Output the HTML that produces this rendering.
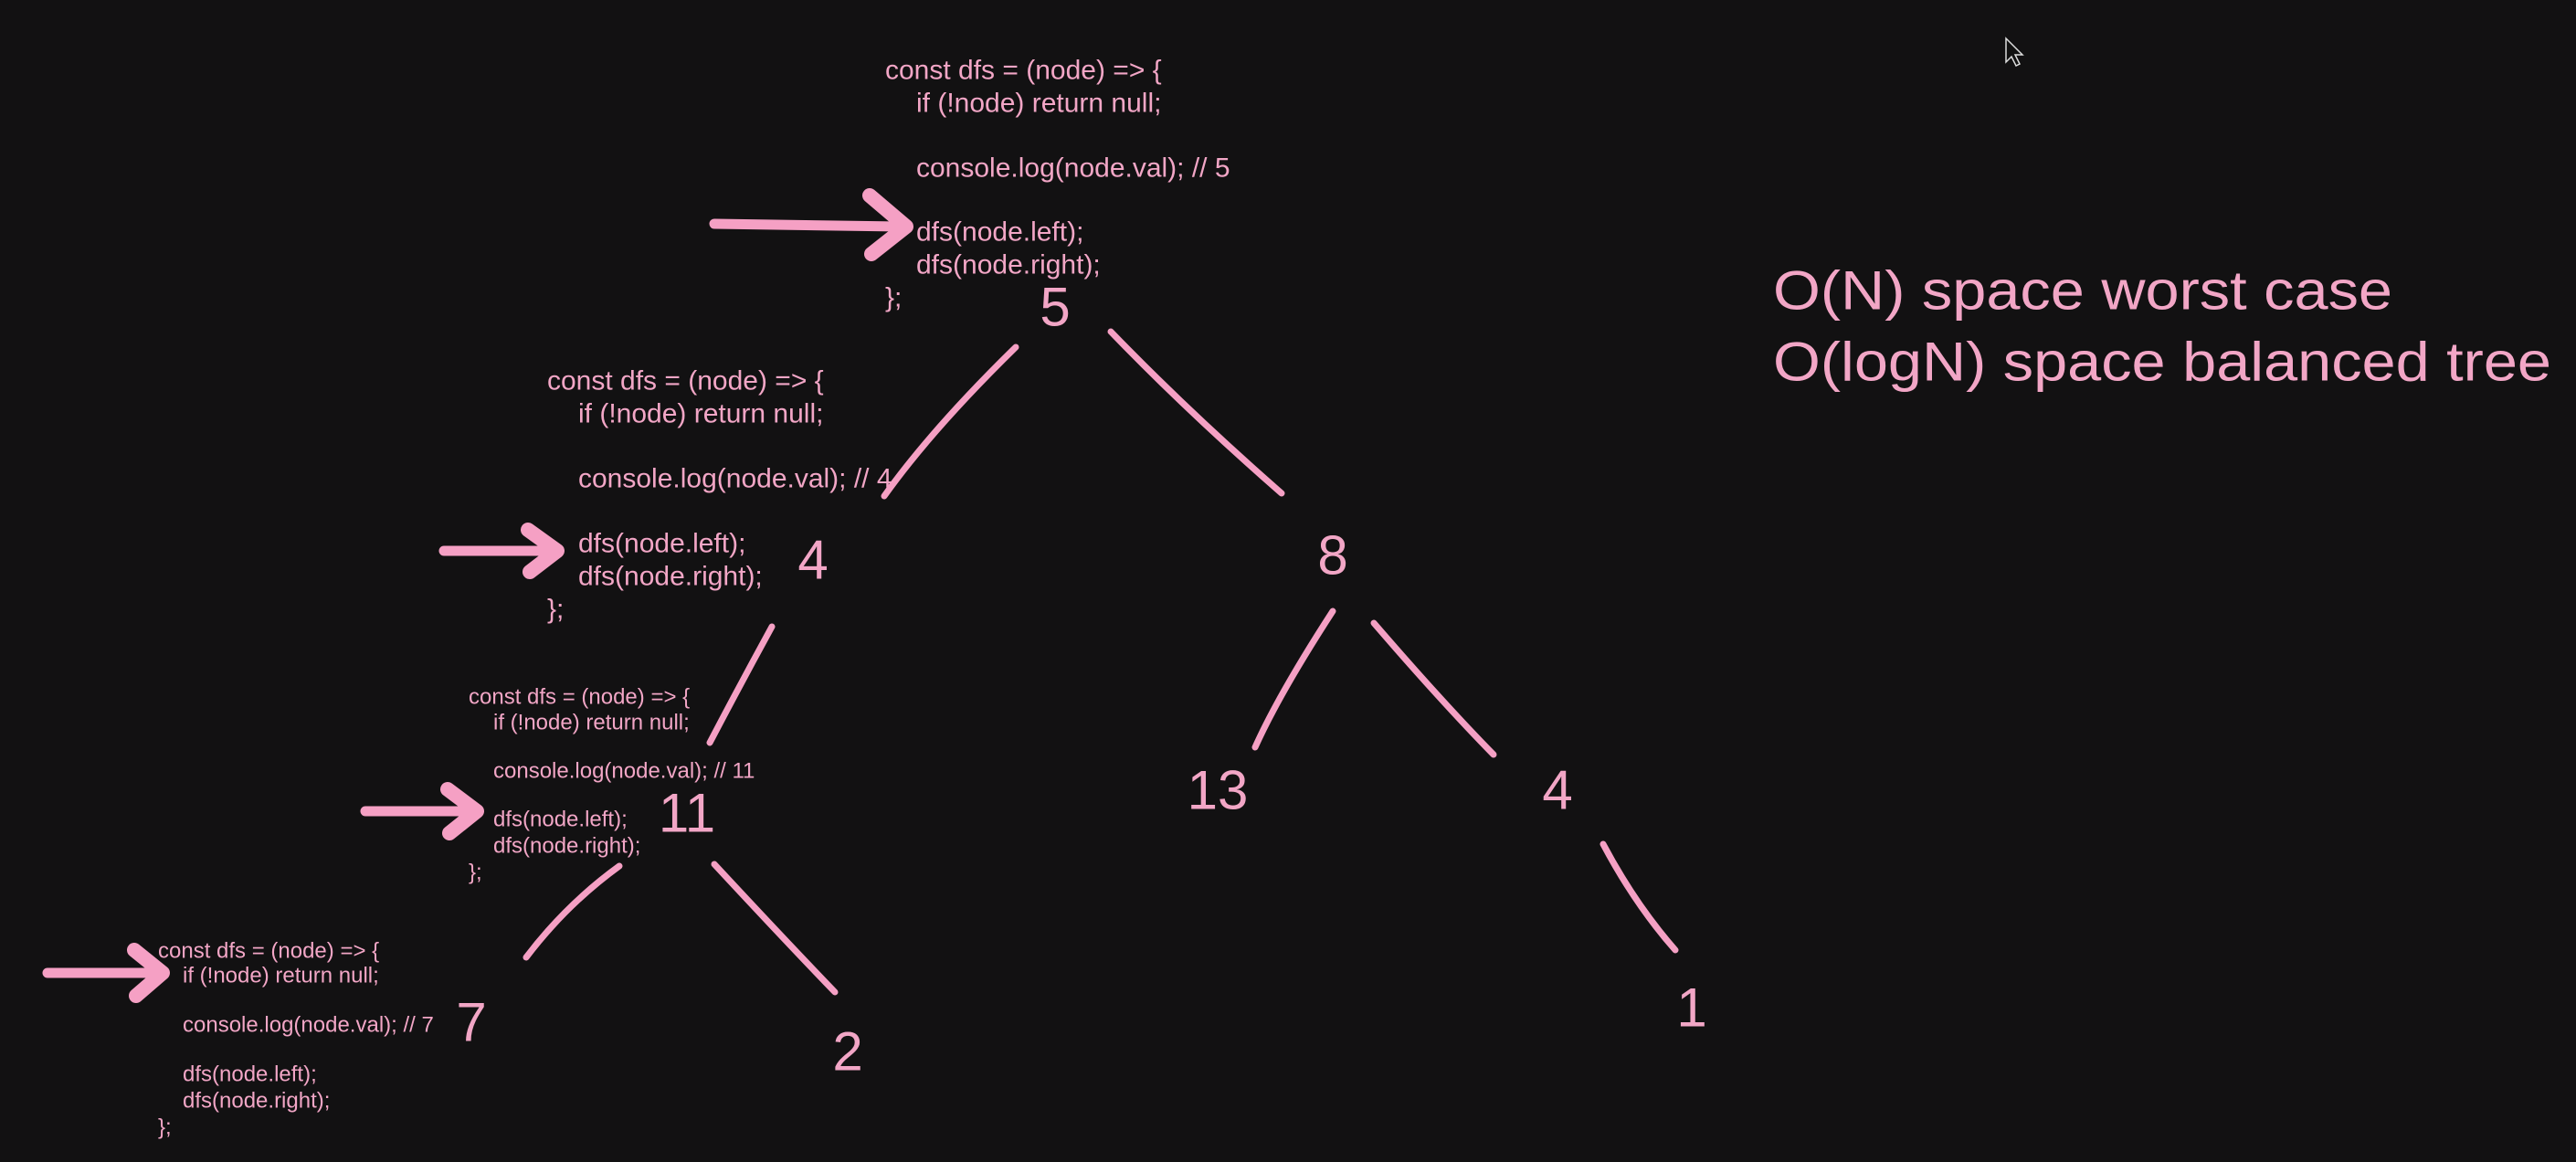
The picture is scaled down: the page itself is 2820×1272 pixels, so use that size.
<!DOCTYPE html>
<html><head><meta charset="utf-8"><style>
html,body{margin:0;padding:0;background:#121112;}
svg{display:block}
text{font-family:"Liberation Sans",sans-serif;fill:#f2a6c6;}
.c{font-size:30px}
.s{font-size:24px}
.n{font-size:60px}
.b{font-size:60px}
path.l{stroke:#f5a0c4;stroke-width:7;fill:none;stroke-linecap:round}
path.a{stroke:#f5a0c4;stroke-width:11;fill:none;stroke-linecap:round;stroke-linejoin:round}
path.h{stroke:#f5a0c4;stroke-width:16;fill:none;stroke-linecap:round;stroke-linejoin:round}
</style></head><body>
<svg width="2820" height="1272" viewBox="0 0 2820 1272" xmlns="http://www.w3.org/2000/svg">
<rect width="2820" height="1272" fill="#121112"/>
<g dominant-baseline="central">
<text class="c" x="969" y="77">const dfs = (node) =&gt; {</text>
<text class="c" x="1003" y="113">if (!node) return null;</text>
<text class="c" x="1003" y="184">console.log(node.val); // 5</text>
<text class="c" x="1003" y="254">dfs(node.left);</text>
<text class="c" x="1003" y="290">dfs(node.right);</text>
<text class="c" x="969" y="326">};</text>
<text class="c" x="599" y="417">const dfs = (node) =&gt; {</text>
<text class="c" x="633" y="453">if (!node) return null;</text>
<text class="c" x="633" y="524">console.log(node.val); // 4</text>
<text class="c" x="633" y="595">dfs(node.left);</text>
<text class="c" x="633" y="631">dfs(node.right);</text>
<text class="c" x="599" y="667">};</text>
<text class="s" x="513" y="763">const dfs = (node) =&gt; {</text>
<text class="s" x="540" y="791">if (!node) return null;</text>
<text class="s" x="540" y="844">console.log(node.val); // 11</text>
<text class="s" x="540" y="897">dfs(node.left);</text>
<text class="s" x="540" y="926">dfs(node.right);</text>
<text class="s" x="513" y="955">};</text>
<text class="s" x="173" y="1041">const dfs = (node) =&gt; {</text>
<text class="s" x="200" y="1068">if (!node) return null;</text>
<text class="s" x="200" y="1122">console.log(node.val); // 7</text>
<text class="s" x="200" y="1176">dfs(node.left);</text>
<text class="s" x="200" y="1205">dfs(node.right);</text>
<text class="s" x="173" y="1234">};</text>
<g text-anchor="middle">
<text class="n" x="1155" y="336">5</text>
<text class="n" x="890" y="613">4</text>
<text class="n" x="1459" y="608">8</text>
<text class="n" x="752" y="890">11</text>
<text class="n" x="1333" y="865">13</text>
<text class="n" x="1705" y="865">4</text>
<text class="n" x="516" y="1119">7</text>
<text class="n" x="928" y="1151">2</text>
<text class="n" x="1852" y="1103">1</text>
</g>
<text class="b" x="1941" y="318" textLength="678" lengthAdjust="spacingAndGlyphs">O(N) space worst case</text>
<text class="b" x="1941" y="396" textLength="852" lengthAdjust="spacingAndGlyphs">O(logN) space balanced tree</text>
</g>
<path class="l" d="M1112 380 Q1020 470 968 543"/>
<path class="l" d="M1216 363 Q1300 450 1403 540"/>
<path class="l" d="M845 686 Q810 750 777 813"/>
<path class="l" d="M1459 669 Q1400 760 1374 818"/>
<path class="l" d="M1504 682 Q1580 770 1635 826"/>
<path class="l" d="M678 948 Q620 990 576 1048"/>
<path class="l" d="M782 946 Q860 1030 914 1086"/>
<path class="l" d="M1755 924 Q1790 990 1834 1040"/>
<path class="a" d="M782 245 L985 248"/><path class="h" d="M952 214 L992 248 L954 278"/>
<path class="a" d="M486 603 L604 603"/><path class="h" d="M578 580 L610 603 L580 626"/>
<path class="a" d="M400 888 L516 888"/><path class="h" d="M490 864 L522 888 L492 912"/>
<path class="a" d="M52 1065 L172 1065"/><path class="h" d="M147 1040 L178 1065 L149 1090"/>
<path d="M2196 42 L2196 68 L2202 62 L2207 72 L2211 70 L2206 60 L2214 60 Z" fill="#111" stroke="#ddd" stroke-width="1.5"/>
</svg>
</body></html>
